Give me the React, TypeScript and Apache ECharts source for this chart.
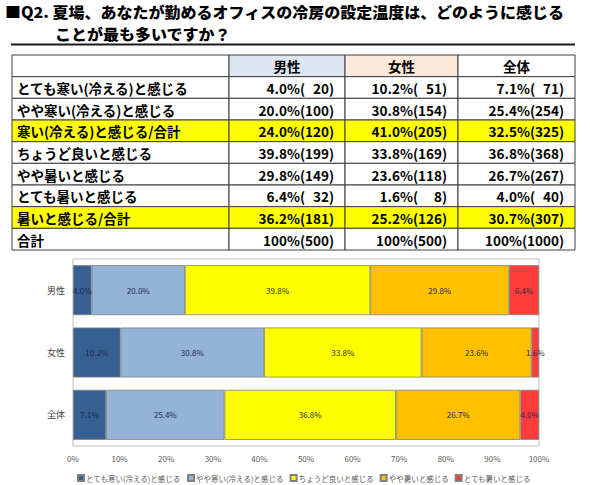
import React, { useEffect, useRef } from 'react';
import * as echarts from 'echarts';

// ---------- data ----------
const titleLine1 = '■Q2. 夏場、あなたが勤めるオフィスの冷房の設定温度は、どのように感じる';
const titleLine2 = 'ことが最も多いですか？';

const tableHeaders = ['', '男性', '女性', '全体'];
const tableRows = [
  'とても寒い(冷える)と感じる',
  'やや寒い(冷える)と感じる',
  '寒い(冷える)と感じる/合計',
  'ちょうど良いと感じる',
  'やや暑いと感じる',
  'とても暑いと感じる',
  '暑いと感じる/合計',
  '合計',
];
const subtotalRows = [2, 6];
const malePct = [4.0, 20.0, 24.0, 39.8, 29.8, 6.4, 36.2, 100];
const maleN = [20, 100, 120, 199, 149, 32, 181, 500];
const femalePct = [10.2, 30.8, 41.0, 33.8, 23.6, 1.6, 25.2, 100];
const femaleN = [51, 154, 205, 169, 118, 8, 126, 500];
const totalPct = [7.1, 25.4, 32.5, 36.8, 26.7, 4.0, 30.7, 100];
const totalN = [71, 254, 325, 368, 267, 40, 307, 1000];

const chartCategories = ['男性', '女性', '全体'];
const seriesNames = [
  'とても寒い(冷える)と感じる',
  'やや寒い(冷える)と感じる',
  'ちょうど良いと感じる',
  'やや暑いと感じる',
  'とても暑いと感じる',
];
const veryCold = [4.0, 10.2, 7.1];
const slightlyCold = [20.0, 30.8, 25.4];
const justRight = [39.8, 33.8, 36.8];
const slightlyHot = [29.8, 23.6, 26.7];
const veryHot = [6.4, 1.6, 4.0];
const seriesValues = [veryCold, slightlyCold, justRight, slightlyHot, veryHot];

// ---------- styles ----------
const FONT = '"Noto Sans CJK JP", "Noto Sans", sans-serif';
const seriesColors = ['#376092', '#95B3D7', '#FFFF00', '#FFC000', '#FF3B3B'];
const headerFills = ['#FFFFFF', '#DCE6F1', '#FDE9D9', '#FFFFFF'];
const colX = [12, 229, 345, 458, 575];
const tableTop = 55;
const tableBottom = 250;

const fmtPct = (v: number) => (v === 100 ? '100%' : v.toFixed(1) + '%');
const fmtCell = (p: number, n: number) => `${fmtPct(p)}(${String(n).padStart(3, '\u2007')})`;

function buildTable(): any[] {
  const els: any[] = [];
  const nRows = tableRows.length + 1;
  const rowH = (tableBottom - tableTop) / nRows;
  const cols = [malePct, femalePct, totalPct];
  const counts = [maleN, femaleN, totalN];
  for (let r = 0; r < nRows; r++) {
    const y = tableTop + r * rowH;
    for (let c = 0; c < 4; c++) {
      let fill = '#FFFFFF';
      if (r === 0) fill = headerFills[c];
      else if (subtotalRows.includes(r - 1)) fill = '#FFFF00';
      els.push({
        type: 'rect',
        shape: { x: colX[c], y, width: colX[c + 1] - colX[c], height: rowH },
        style: { fill, stroke: '#3F3F3F', lineWidth: 1 },
        z: 1,
      });
      let text = '';
      let x = 0;
      let align = 'left';
      if (r === 0) {
        text = tableHeaders[c];
        x = (colX[c] + colX[c + 1]) / 2;
        align = 'center';
      } else if (c === 0) {
        text = tableRows[r - 1];
        x = colX[0] + 5;
      } else {
        text = fmtCell(cols[c - 1][r - 1], counts[c - 1][r - 1]);
        x = colX[c + 1] - 11;
        align = 'right';
      }
      if (text) {
        els.push({
          type: 'text',
          x,
          y: y + rowH / 2 + 0.5,
          z: 2,
          style: {
            text,
            fill: '#000000',
            font: `bold 13.5px ${FONT}`,
            align,
            verticalAlign: 'middle',
            lineHeight: 15,
          },
        });
      }
    }
  }
  return els;
}

export default function App() {
  const ref = useRef<HTMLDivElement>(null);
  useEffect(() => {
    if (!ref.current) return;
    const chart = echarts.init(ref.current, undefined, { renderer: 'svg' });
    const option: any = {
      animation: false,
      backgroundColor: '#FFFFFF',
      textStyle: { fontFamily: FONT },
      graphic: {
        elements: [
          {
            type: 'text',
            x: 5,
            y: 11.2,
            scaleX: 1.067,
            style: {
              text: titleLine1,
              fill: '#000',
              font: `900 15px ${FONT}`,
              verticalAlign: 'middle',
              lineHeight: 15,
            },
          },
          {
            type: 'text',
            x: 55,
            y: 33,
            scaleX: 1.067,
            style: {
              text: titleLine2,
              fill: '#000',
              font: `900 15px ${FONT}`,
              verticalAlign: 'middle',
              lineHeight: 15,
            },
          },
          {
            type: 'line',
            shape: { x1: 11, y1: 44.5, x2: 575, y2: 44.5 },
            style: { stroke: '#1A1A1A', lineWidth: 2 },
          },
          ...buildTable(),
        ],
      },
      grid: {
        left: 73,
        right: 51,
        top: 259,
        bottom: 39,
        show: true,
        borderColor: '#BFBFBF',
        borderWidth: 1,
        containLabel: false,
      },
      legend: {
        top: 469,
        left: 72,
        itemWidth: 6,
        itemHeight: 6,
        itemGap: 6,
        icon: 'rect',
        textStyle: { fontSize: 7.5, color: '#595959', fontFamily: FONT, padding: [0, 0, 0, -3] },
        data: seriesNames,
      },
      xAxis: {
        type: 'value',
        min: 0,
        max: 100,
        interval: 10,
        axisLine: { show: false },
        axisTick: { show: false },
        splitLine: { show: false },
        axisLabel: { formatter: '{value}%', fontSize: 8, color: '#595959', margin: 8, fontFamily: FONT },
      },
      yAxis: {
        type: 'category',
        data: chartCategories,
        inverse: true,
        axisLine: { show: false },
        axisTick: { show: false },
        axisLabel: { fontSize: 9, color: '#404040', margin: 8, fontFamily: FONT },
      },
      series: seriesNames.map((name, i) => ({
        name,
        type: 'bar',
        stack: 'total',
        barWidth: 50,
        data: seriesValues[i],
        itemStyle: { color: seriesColors[i], borderColor: '#7F7F7F', borderWidth: 0.8 },
        label: {
          show: true,
          position: 'inside',
          fontSize: 8,
          color: '#1F2A4A',
          fontFamily: FONT,
          formatter: (p: any) => Number(p.value).toFixed(1) + '%',
        },
      })),
    };
    chart.setOption(option);
    return () => chart.dispose();
  }, []);
  return (
    <div
      ref={ref}
      style={{ position: 'fixed', left: 0, top: 0, width: 590, height: 485 }}
    />
  );
}
